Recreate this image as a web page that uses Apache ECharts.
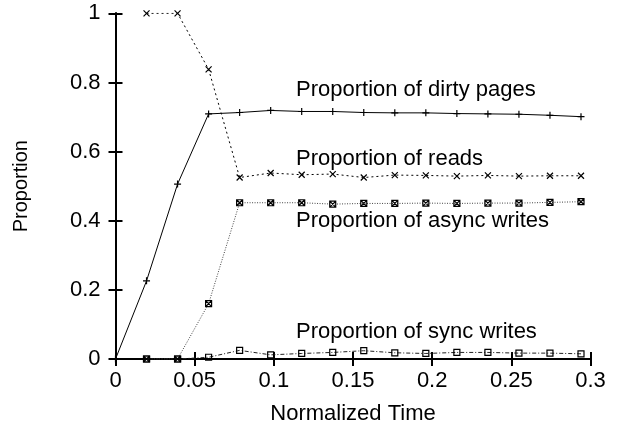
<!DOCTYPE html>
<html>
<head>
<meta charset="UTF-8">
<title>Proportion vs Normalized Time</title>
<script src="https://cdn.jsdelivr.net/npm/echarts@6/dist/echarts.min.js"></script>
<style>
    html, body { margin: 0; padding: 0; background: #fff; }
    #chart { width: 619px; height: 430px; }
</style>
</head>
<body>
<div id="chart"></div>
<script>
    // data
    var times = [0, 0.0196, 0.0392, 0.0588, 0.0784, 0.098, 0.1176, 0.1372, 0.1568, 0.1764, 0.196, 0.2156, 0.2352, 0.2548, 0.2744, 0.294];
    var dirtyPages = [0, 0.226, 0.506, 0.709, 0.713, 0.719, 0.716, 0.716, 0.713, 0.712, 0.712, 0.710, 0.709, 0.708, 0.705, 0.701];
    var reads = [null, 1, 1, 0.838, 0.525, 0.538, 0.533, 0.535, 0.525, 0.532, 0.531, 0.529, 0.531, 0.529, 0.530, 0.530];
    var asyncWrites = [null, 0, 0, 0.16, 0.452, 0.452, 0.452, 0.448, 0.450, 0.450, 0.451, 0.450, 0.451, 0.451, 0.453, 0.455];
    var syncWrites = [null, 0, 0, 0.005, 0.025, 0.012, 0.016, 0.019, 0.024, 0.018, 0.016, 0.019, 0.019, 0.017, 0.017, 0.015];

    var xTicks = [0, 0.05, 0.1, 0.15, 0.2, 0.25, 0.3];
    var yTicks = [0, 0.2, 0.4, 0.6, 0.8, 1];

    // text next to each curve, in data coordinates
    var curveLabels = [
        { text: 'Proportion of dirty pages', at: [0.114, 0.778] },
        { text: 'Proportion of reads', at: [0.114, 0.580] },
        { text: 'Proportion of async writes', at: [0.114, 0.399] },
        { text: 'Proportion of sync writes', at: [0.114, 0.0795] }
    ];

    var chart = echarts.init(document.getElementById('chart'));

    function pairs(values) {
        return values.map(function (v, i) { return [times[i], v]; });
    }

    function fmt(v) { return String(+v.toFixed(2)); }

    var font = 'Liberation Sans';
    var tickFont = { fontFamily: font, fontSize: 22, color: '#000' };

    var symPlus = 'path://M5,0L5,10M0,5L10,5';
    var symCross = 'path://M0,0L10,10M0,10L10,0';
    var symStar = 'path://M0,0L10,0L10,10L0,10ZM0,0L10,10M0,10L10,0';
    var symSquare = 'path://M0,0L10,0L10,10L0,10Z';

    function lineSeries(name, values, symbol, dash, color, size) {
        return {
            name: name,
            type: 'line',
            data: pairs(values),
            symbol: symbol,
            symbolSize: size,
            showAllSymbol: true,
            connectNulls: false,
            lineStyle: { color: color, width: 1, type: dash },
            itemStyle: { color: 'rgba(0,0,0,0)', borderColor: '#000', borderWidth: 1.2 },
            emphasis: { disabled: true },
            z: 3
        };
    }

    function frameAxis(pos, min, max, interval) {
        return {
            type: 'value',
            position: pos,
            min: min, max: max, interval: interval,
            axisLine: { show: true, lineStyle: { color: '#000', width: 2 } },
            axisTick: { show: true, inside: true, length: 7, lineStyle: { color: '#000', width: 2 } },
            axisLabel: { show: false },
            splitLine: { show: false }
        };
    }

    var option = {
        animation: false,
        backgroundColor: '#fff',
        grid: { left: 115.5, right: 28.5, top: 13.3, bottom: 71 },
        xAxis: [{
            type: 'value',
            min: 0, max: 0.3, interval: 0.05,
            name: 'Normalized Time',
            nameLocation: 'middle',
            nameGap: 44,
            nameTextStyle: { fontFamily: font, fontSize: 22, color: '#000' },
            axisLine: { show: true, lineStyle: { color: '#000', width: 2 } },
            axisTick: { show: true, inside: true, length: 7, lineStyle: { color: '#000', width: 2 } },
            axisLabel: Object.assign({ margin: 11, formatter: function (v) { return xTicks.indexOf(+v.toFixed(2)) >= 0 ? fmt(v) : ''; } }, tickFont),
            splitLine: { show: false }
        }, frameAxis('top', 0, 0.3, 0.05)],
        yAxis: [{
            type: 'value',
            min: 0, max: 1, interval: 0.2,
            name: 'Proportion',
            nameLocation: 'middle',
            nameGap: 84,
            nameRotate: 90,
            nameTextStyle: { fontFamily: font, fontSize: 20, color: '#000' },
            axisLine: { show: true, lineStyle: { color: '#000', width: 2 } },
            axisTick: { show: true, inside: true, length: 7, lineStyle: { color: '#000', width: 2 } },
            axisLabel: Object.assign({ margin: 15, formatter: function (v) { return yTicks.indexOf(+v.toFixed(1)) >= 0 ? fmt(v) : ''; } }, tickFont),
            splitLine: { show: false }
        }, frameAxis('right', 0, 1, 0.2)],
        series: [
            lineSeries('Proportion of dirty pages', dirtyPages, symPlus, 'solid', '#000', 7),
            lineSeries('Proportion of reads', reads, symCross, [2, 3], '#000', 6),
            lineSeries('Proportion of async writes', asyncWrites, symStar, [1, 1.5], '#444', 6),
            lineSeries('Proportion of sync writes', syncWrites, symSquare, [4, 2, 1, 2], '#222', 6)
        ]
    };

    chart.setOption(option);

    // place curve texts from data coordinates
    var texts = curveLabels.map(function (lab) {
        var p = chart.convertToPixel({ xAxisIndex: 0, yAxisIndex: 0 }, lab.at);
        return {
            type: 'text',
            x: p[0],
            y: p[1],
            silent: true,
            z: 10,
            style: {
                text: lab.text,
                fontFamily: font,
                fontSize: 22,
                fill: '#000',
                align: 'left',
                verticalAlign: 'middle'
            }
        };
    });
    chart.setOption({ graphic: texts });
</script>
</body>
</html>
